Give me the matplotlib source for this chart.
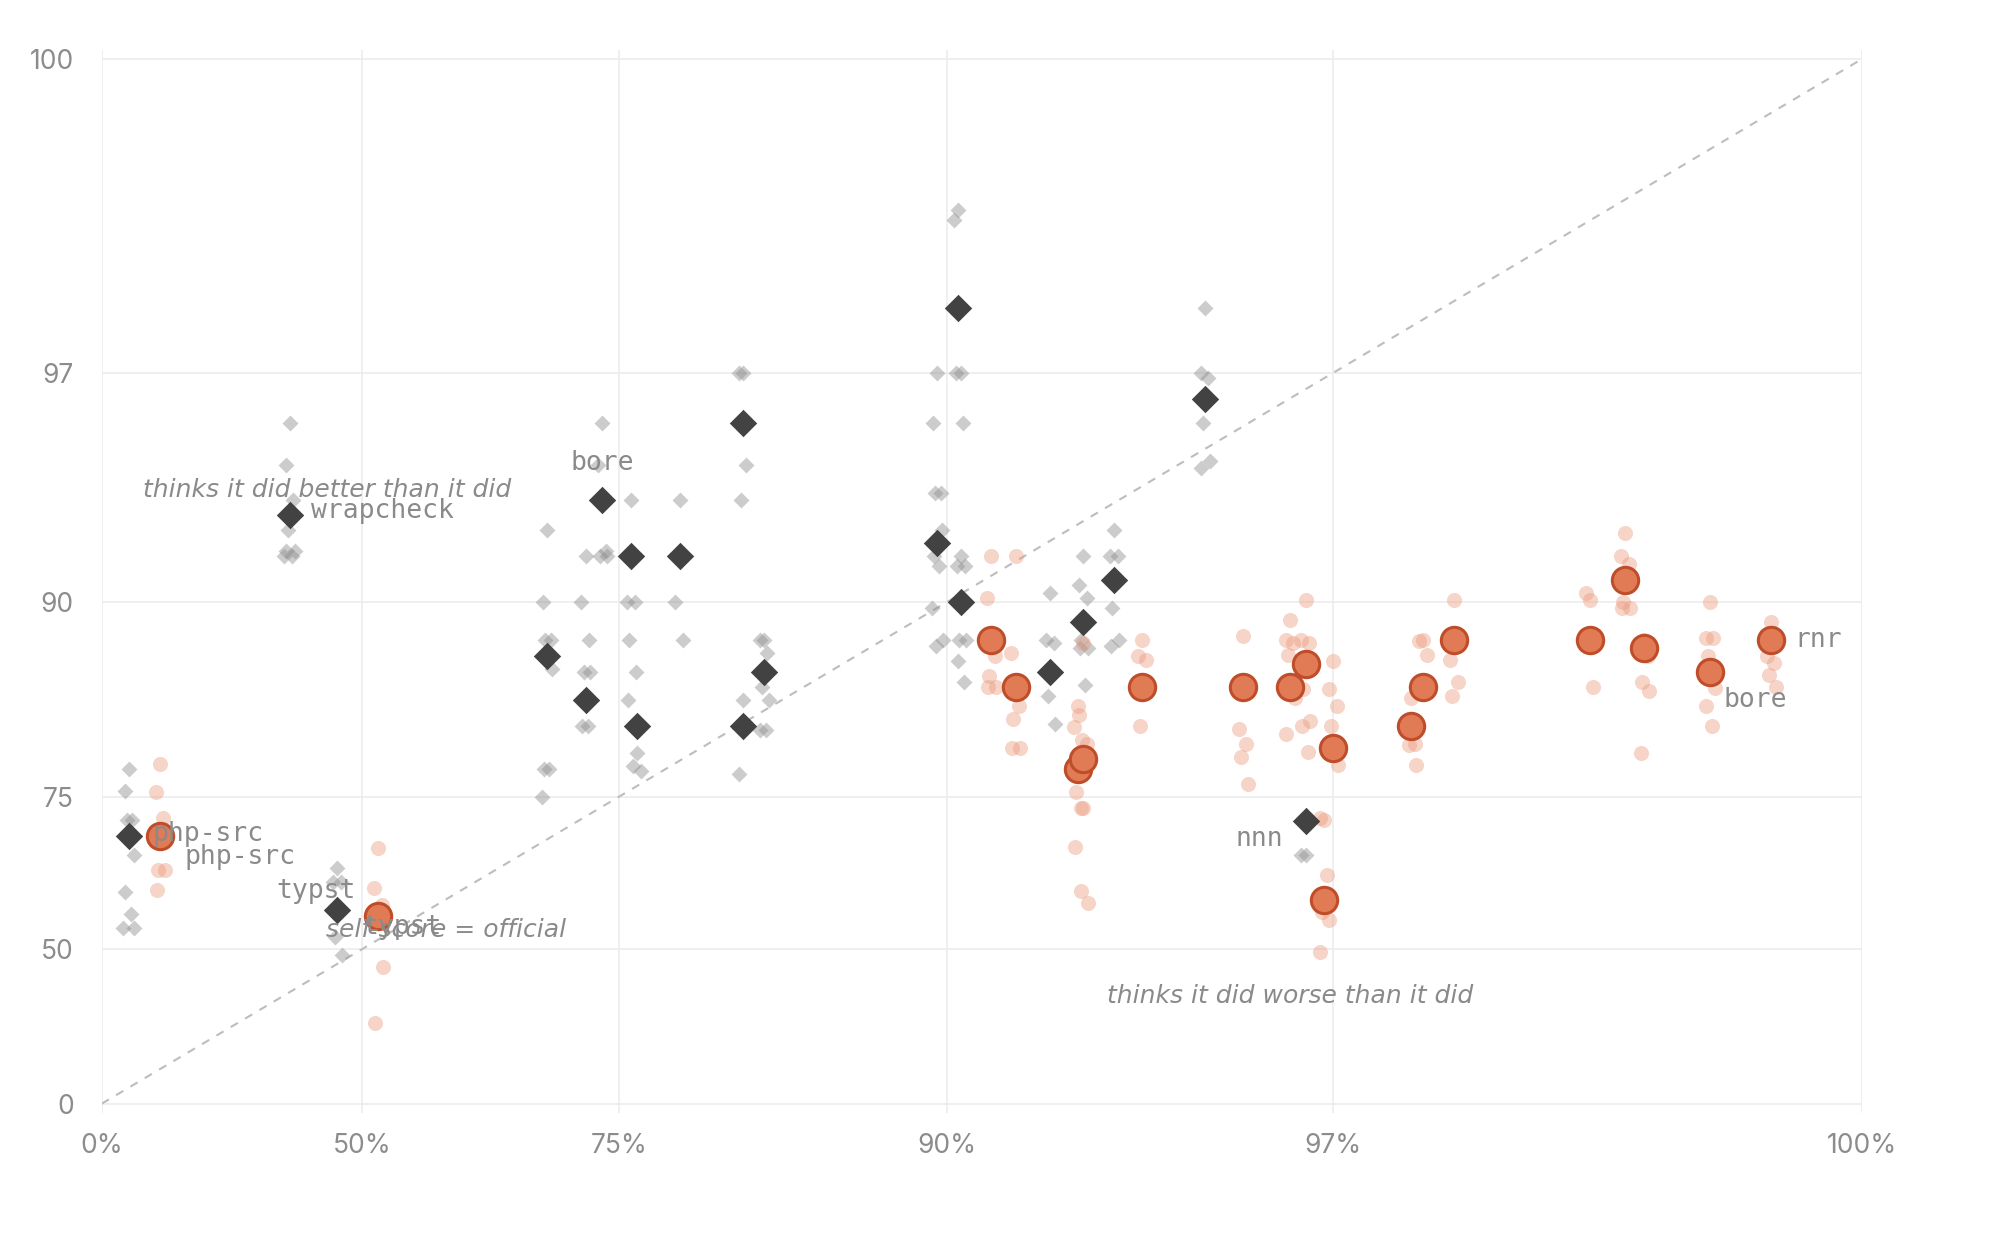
import numpy as np
import matplotlib.pyplot as plt
from matplotlib.ticker import NullLocator
from matplotlib.transforms import offset_copy

# official score (x) vs self-score (y), per repo; small marks are single runs
gray_x = [6.9, 39.3, 46.5, 69.6, 72.6, 73.8, 75.8, 76.2, 78.8, 82.2,
          82.2, 83.2, 89.7, 90.3, 90.4, 92.6, 93.3, 93.9, 95.4, 96.7]
gray_y = [70, 93.5, 58, 87, 84, 94, 92, 82, 92, 96,
          82, 86, 92.5, 98, 90, 86, 89, 91, 96.5, 72]
gray_runs = [
    [78, 75.6, 72.2, 72.2, 67.4, 61.4, 57.4, 54.5, 54.5],
    [96, 95, 94, 93, 92.2, 92.2, 92, 92],
    [65.3, 63, 63, 52.7, 48.6],
    [93, 90, 88, 88, 86.2, 78, 78, 75],
    [92, 90, 88, 86, 86, 82, 82],
    [96, 95, 92.2, 92, 92],
    [94, 90, 90, 88, 86, 84],
    [79.5, 78.3, 77.8],
    [94, 90, 88],
    [97, 97, 95, 94],
    [84, 77.5],
    [88, 88, 87.2, 85, 84, 81.6, 81.6],
    [97, 96, 94.2, 94.2, 93, 92, 91.6, 89.7, 88, 87.6],
    [99.05, 98.96, 97, 97, 96],
    [92, 91.6, 91.6, 88, 88, 86.7, 85.3],
    [90.4, 88, 87.8, 84.3, 82.1],
    [92, 90.8, 90.2, 88, 87.5, 87.5, 85.1],
    [93, 92, 92, 89.7, 88, 87.6],
    [98, 97, 96.9, 96, 95.1, 94.9],
    [67.4, 67.4],
]
gray_labels = ['php-src', 'wrapcheck', 'typst', '', '', 'bore', '', '', '', '',
               '', '', '', '', '', '', '', '', '', 'nnn']

orange_x = [14.3, 52.1, 91.2, 91.8, 93.2, 93.3, 94.4, 95.93, 96.52, 96.7,
            96.9, 97.0, 97.74, 97.84, 98.09, 98.96, 99.14, 99.23, 99.51, 99.73]
orange_y = [70, 57, 88, 85, 78, 79, 85, 85, 85, 86.5,
            60, 80, 82, 85, 88, 88, 91, 87.5, 86, 88]
orange_runs = [
    [78.5, 75.5, 72.4, 65, 65, 61.7],
    [68.3, 62.1, 59, 57.5, 45.9, 30.4],
    [92, 90.2, 87, 85.7, 85, 85],
    [92, 87.2, 83.6, 82.5, 80, 80],
    [83.6, 81.9, 80.7, 75.5, 73.7, 68.5, 61.6],
    [87.8, 82.9, 80.4, 73.7, 59.4],
    [88, 87, 86.8, 82],
    [88.2, 81.7, 80.4, 79.2, 76.4],
    [89.1, 88, 87.8, 87.1, 84.2, 81.3],
    [90.1, 88, 87.8, 84.8, 82.4, 82, 79.6],
    [72.2, 72.4, 64.2, 57.7, 56.2, 49.4],
    [86.7, 84.8, 83.6, 82, 78.4],
    [84.2, 81.9, 80.4, 80.3, 78.4],
    [88, 87.9, 87.1],
    [90.1, 86.8, 85.3, 84.3],
    [90.1, 90.4, 85],
    [92.9, 92, 91.7, 90, 89.7, 89.7],
    [88, 87.8, 87, 85.3, 84.7, 79.5],
    [90, 88.1, 88.1, 87, 84.9, 83.6, 82],
    [89, 87, 86.6, 85.8, 85],
]
orange_labels = ['php-src', 'typst', '', '', '', '', '', '', '', '',
                 '', '', '', '', '', '', '', '', 'bore', 'rnr']

ticks = [0, 50, 75, 90, 97, 100]


# scale that opens up the top end (-log of the distance to 101)
def fwd(p):
    p = np.asarray(p, dtype=float)
    return -np.log10(np.clip(1.01 - p / 100.0, 1e-9, None))


def inv(u):
    return 100.0 * (1.01 - 10.0 ** (-np.asarray(u, dtype=float)))


fig = plt.figure(figsize=(19.99, 12.33), dpi=100)
ax = fig.add_axes([0.0509, 0.0976, 0.8805, 0.8620])
ax.set_xscale('function', functions=(fwd, inv))
ax.set_yscale('function', functions=(fwd, inv))
ax.set_xlim(0, 100)
ax.set_ylim(-4.09, 100.04)

ax.set_xticks(ticks)
ax.set_xticklabels([f'{t}%' for t in ticks])
ax.set_yticks(ticks)
ax.set_yticklabels([str(t) for t in ticks])
ax.xaxis.set_minor_locator(NullLocator())
ax.yaxis.set_minor_locator(NullLocator())
ax.tick_params(length=0, labelsize=19, labelcolor='#8c8c8c')
ax.tick_params(axis='x', pad=15)
ax.tick_params(axis='y', pad=20)
for lab in ax.get_xticklabels() + ax.get_yticklabels():
    lab.set_family(['Inter', 'DejaVu Sans'])
for s in ax.spines.values():
    s.set_visible(False)
ax.grid(True, color='#ececec', lw=1.2, zorder=0)
ax.set_axisbelow(True)

ax.plot([0, 100], [0, 100], ls=(0, (4, 4)), color='#bdbdbd', lw=1.5, zorder=1.5)

# small horizontal jitter (points) so stacked runs stay visible
jit = [0, -3, 2.5, -1.5, 3.5, -2.5, 1.5, -4, 4, -0.5]


def draw_runs(xs, runs, **kw):
    for k, off in enumerate(jit):
        px, py = [], []
        for x, ys in zip(xs, runs):
            for j, y in enumerate(ys):
                if j % len(jit) == k:
                    px.append(x)
                    py.append(y)
        if px:
            tr = offset_copy(ax.transData, fig=fig, x=off, y=0, units='points')
            ax.scatter(px, py, transform=tr, **kw)


draw_runs(gray_x, gray_runs, marker='D', s=66, color='#8f8f8f', alpha=0.45,
          lw=0, zorder=2)
draw_runs(orange_x, orange_runs, s=118, color='#eb9a7e', alpha=0.42,
          lw=0, zorder=2)

ax.scatter(gray_x, gray_y, marker='D', s=195, color='#3c3c3c', alpha=0.97,
           lw=0, zorder=3)
ax.scatter(orange_x, orange_y, s=360, facecolor='#e07b56', edgecolor='#c04d29',
           lw=2.2, zorder=4)

mono = ['DejaVu Sans Mono']
# label placement in points relative to the marker
gray_off = {0: (17, 2, 'left'), 1: (15, 3, 'left'), 2: (-15, 14, 'center'),
            5: (0, 26, 'center'), 19: (-16, -13, 'right')}
orange_off = {0: (18, -15, 'left'), 1: (17, -8, 'center'),
              18: (10, -20, 'left'), 19: (17, 0, 'left')}
for xs, ys, labels, offs in [(gray_x, gray_y, gray_labels, gray_off),
                             (orange_x, orange_y, orange_labels, orange_off)]:
    for i, name in enumerate(labels):
        if not name:
            continue
        dx, dy, ha = offs[i]
        ax.annotate(name, (xs[i], ys[i]), xytext=(dx, dy), textcoords='offset points',
                    ha=ha, va='center', fontsize=19, color='#8a8a8a',
                    family=mono, zorder=5)

note = dict(fontsize=18, color='#8a8a8a', style='oblique',
            family=['DejaVu Sans'], zorder=5)
ax.text(45.0, 94.3, 'thinks it did better than it did', ha='center', va='center', **note)
ax.text(96.52, 38.1, 'thinks it did worse than it did', ha='center', va='center', **note)
ax.text(60.0, 54.1, 'self-score = official', ha='center', va='center', **note)

fig.savefig('out.png', dpi=100)
